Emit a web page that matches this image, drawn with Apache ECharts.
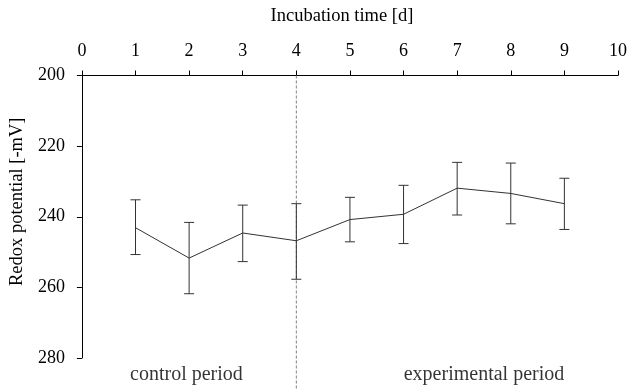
<!DOCTYPE html>
<html>
<head>
<meta charset="utf-8">
<script src="https://cdn.jsdelivr.net/npm/echarts@6/dist/echarts.min.js"></script>
<style>html,body{margin:0;padding:0;background:#fff}#c{width:630px;height:392px}</style>
</head>
<body>
<div id="c"></div>
<script>
var days = [1, 2, 3, 4, 5, 6, 7, 8, 9];
var redoxMean  = [243.1, 251.7, 244.6, 246.8, 240.8, 239.3, 231.9, 233.4, 236.3];
var redoxUpper = [235.2, 241.6, 236.7, 236.3, 234.5, 231.1, 224.6, 224.8, 229.1];
var redoxLower = [250.7, 261.8, 252.7, 257.7, 247.1, 247.6, 239.5, 242.0, 243.6];
var xTicks = [0, 10, 1];
var yTicks = [200, 280, 20];
var dividerDay = 4;
var dividerRange = [200, 289];
var periodLabels = [{name: 'control period', x: 1.95, y: 284.7}, {name: 'experimental period', x: 7.5, y: 284.7}];

var FONT = 'Liberation Serif';
var chart = echarts.init(document.getElementById('c'), null, {renderer: 'canvas'});

var meanData = days.map(function (d, i) { return [d, redoxMean[i]]; });
var errData = days.map(function (d, i) { return [d, redoxUpper[i], redoxLower[i]]; });

chart.setOption({
  animation: false,
  backgroundColor: '#ffffff',
  grid: {left: 79.5, right: 9.5, top: 75.5, bottom: 34},
  xAxis: {
    type: 'value', position: 'top', min: xTicks[0], max: xTicks[1], interval: xTicks[2],
    name: 'Incubation time [d]', nameLocation: 'middle', nameGap: 50,
    nameTextStyle: {fontFamily: FONT, fontSize: 18.5, color: '#000', padding: [0, 16, 0, 0]},
    axisLine: {show: true, lineStyle: {color: '#000', width: 1}},
    axisTick: {show: true, inside: false, length: 5, lineStyle: {color: '#000'}},
    axisLabel: {fontFamily: FONT, fontSize: 18, color: '#000', margin: 15},
    splitLine: {show: false}
  },
  yAxis: {
    type: 'value', inverse: true, min: yTicks[0], max: yTicks[1], interval: yTicks[2],
    name: 'Redox potential [-mV]', nameLocation: 'middle', nameGap: 52, nameRotate: 90,
    nameTextStyle: {fontFamily: FONT, fontSize: 18.5, color: '#000', padding: [0, 0, 0, 30]},
    axisLine: {show: true, lineStyle: {color: '#000', width: 1}},
    axisTick: {show: true, inside: false, length: 5, lineStyle: {color: '#000'}},
    axisLabel: {fontFamily: FONT, fontSize: 18, color: '#000', margin: 17},
    splitLine: {show: false}
  },
  series: [
    {
      type: 'line', data: [[dividerDay, dividerRange[0]], [dividerDay, dividerRange[1]]],
      clip: false, showSymbol: false, symbol: 'none', silent: true,
      lineStyle: {color: '#808080', width: 1, type: [3, 2]}, z: 1
    },
    {
      type: 'custom', data: errData, clip: false, z: 3,
      renderItem: function (params, api) {
        var x = api.value(0);
        var top = api.coord([x, api.value(1)]);
        var bot = api.coord([x, api.value(2)]);
        var hw = 5;
        var st = {stroke: '#333', lineWidth: 1};
        return {
          type: 'group',
          children: [
            {type: 'line', shape: {x1: top[0], y1: top[1], x2: bot[0], y2: bot[1]}, style: st},
            {type: 'line', shape: {x1: top[0] - hw, y1: top[1], x2: top[0] + hw, y2: top[1]}, style: st},
            {type: 'line', shape: {x1: bot[0] - hw, y1: bot[1], x2: bot[0] + hw, y2: bot[1]}, style: st}
          ]
        };
      }
    },
    {
      type: 'line', data: meanData, showSymbol: false, symbol: 'none', z: 4,
      lineStyle: {color: '#333', width: 1}
    },
    {
      type: 'scatter', clip: false, symbolSize: 0, silent: true,
      data: periodLabels.map(function (p) { return {name: p.name, value: [p.x, p.y]}; }),
      label: {show: true, position: 'inside', formatter: '{b}', fontFamily: FONT, fontSize: 20, color: '#000'}
    }
  ]
});
</script>
</body>
</html>
